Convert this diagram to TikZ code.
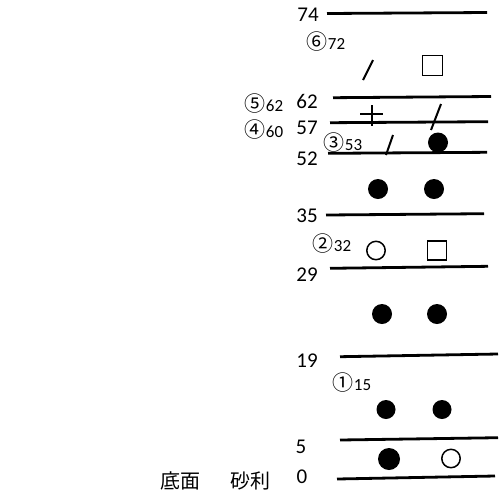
\documentclass[tikz,border=0pt]{standalone}
\usepackage{fontspec}
\setmainfont{Carlito}
\newfontfamily\cjk{Noto Sans CJK JP}
\newcommand{\circnum}[1]{{\cjk\fontsize{21}{21}\selectfont #1}}
\begin{document}
\begin{tikzpicture}[x=1pt,y=-1pt,
  layer/.style={line width=2.8pt},
  big/.style={inner sep=0pt,font=\fontsize{21}{21}\selectfont},
  small/.style={inner sep=0pt,font=\fontsize{17}{17}\selectfont},
  jp/.style={inner sep=0pt,font=\cjk\fontsize{20}{20}\selectfont},
  dot/.style={fill=black},
  ring/.style={draw=black,line width=1.5pt,fill=white},
  sq/.style={draw=black,line width=1.8pt},
  stroke/.style={line width=2pt}]
\useasboundingbox (0,0) rectangle (500,491);
% layer boundaries
\draw[layer] (327,13.5) -- (487,12.5);
\draw[layer] (333,97.7) -- (491,96.5);
\draw[layer] (330,122.7) -- (488,121.7);
\draw[layer] (328,153.3) -- (487,152.3);
\draw[layer] (326,215) -- (484,213.7);
\draw[layer] (330,268.3) -- (488,266.3);
\draw[layer] (340,356.7) -- (498,354);
\draw[layer] (340,440) -- (498,437.7);
\draw[layer] (337,479) -- (495,476);
% depth labels
\node[big] (d74) at (308,15) {74};
\node[big] (d62) at (307,101) {62};
\node[big] (d57) at (307,128) {57};
\node[big] (d52) at (307,159) {52};
\node[big] (d35) at (307,216) {35};
\node[big] (d29) at (307,275) {29};
\node[big] (d19) at (307,361) {19};
\node[big] (d5) at (301,447) {5};
\node[big] (d0) at (302,477) {0};
% sample labels
\node[small] (s6) at (326,42) {\circnum{⑥}72};
\node[small] (s5) at (264,104) {\circnum{⑤}62};
\node[small] (s4) at (264,130) {\circnum{④}60};
\node[small] (s3) at (343,143) {\circnum{③}53};
\node[small] (s2) at (332,244) {\circnum{②}32};
\node[small] (s1) at (352,383) {\circnum{①}15};
\node[jp] (j1) at (180,481) {底面};
\node[jp] (j2) at (250,481) {砂利};
% symbols
\draw[stroke] (363,80) -- (373,60);
\draw[sq] (422.5,55.5) rectangle (442.5,75.5);
\draw[stroke] (360,114.3) -- (383,114.3);
\draw[stroke] (371.7,105) -- (371.7,126);
\draw[stroke] (431,130) -- (441,104);
\draw[stroke] (386,155) -- (393,135);
\fill[dot] (438,142.5) circle (10);
\fill[dot] (378,189) circle (10);
\fill[dot] (434,189) circle (10);
\draw[ring] (376,250.5) circle (9.2);
\draw[sq] (427.5,241) rectangle (446.5,260);
\fill[dot] (382,314) circle (10);
\fill[dot] (437,314) circle (10);
\fill[dot] (386,409.5) circle (9.5);
\fill[dot] (442,409.5) circle (9.5);
\fill[dot] (389,459) circle (11);
\draw[ring] (451,458.5) circle (9.2);
\end{tikzpicture}
\end{document}
